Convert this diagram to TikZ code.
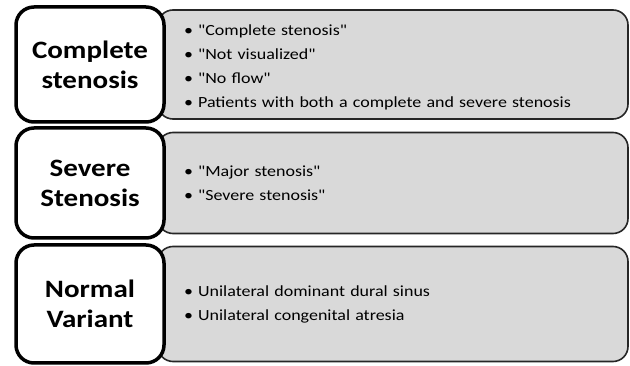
\documentclass[tikz,border=0pt]{standalone}
\usepackage{fontspec}
\setmainfont{Carlito}[Ligatures=TeXOff, FakeStretch=1.16]
\usetikzlibrary{positioning, backgrounds}

\begin{document}
\begin{tikzpicture}[
    x=1pt, y=-1pt,
    node distance=6pt,
    class/.style={rectangle, draw, line width=3.5pt, rounded corners=18pt, fill=white, minimum width=148pt, outer sep=0pt, align=center, font=\fontsize{25}{30}\selectfont\bfseries},
    items/.style={rectangle, draw=black!85, line width=1.6pt, rounded corners=15pt, fill=gray!30, minimum width=470pt, text width=418pt, inner xsep=26pt, outer sep=0pt, align=left, font=\fontsize{15.5}{24}\selectfont}
]
\useasboundingbox (0,0) rectangle (630,366);

% Category boxes on the left
\node (complete) at (90,64.5) [class, minimum height=115pt] {Complete\\stenosis};
\node (severe) [class, minimum height=110pt, below=6pt of complete] {Severe\\Stenosis};
\node (normal) [class, minimum height=118pt, below=7pt of severe] {Normal\\Variant};

% Grey lists behind them
\begin{scope}[on background layer]
\node (complete_list) [items, minimum height=109pt, text height=17pt, right=-6pt of complete] {• "Complete stenosis"\\• "Not visualized"\\• "No flow"\\• Patients with both a complete and severe stenosis};
\node (severe_list) [items, minimum height=101pt, right=-6pt of severe] {• "Major stenosis"\\• "Severe stenosis"};
\node (normal_list) [items, minimum height=115pt, right=-6pt of normal] {• Unilateral dominant dural sinus\\• Unilateral congenital atresia};
\end{scope}

\end{tikzpicture}
\end{document}
